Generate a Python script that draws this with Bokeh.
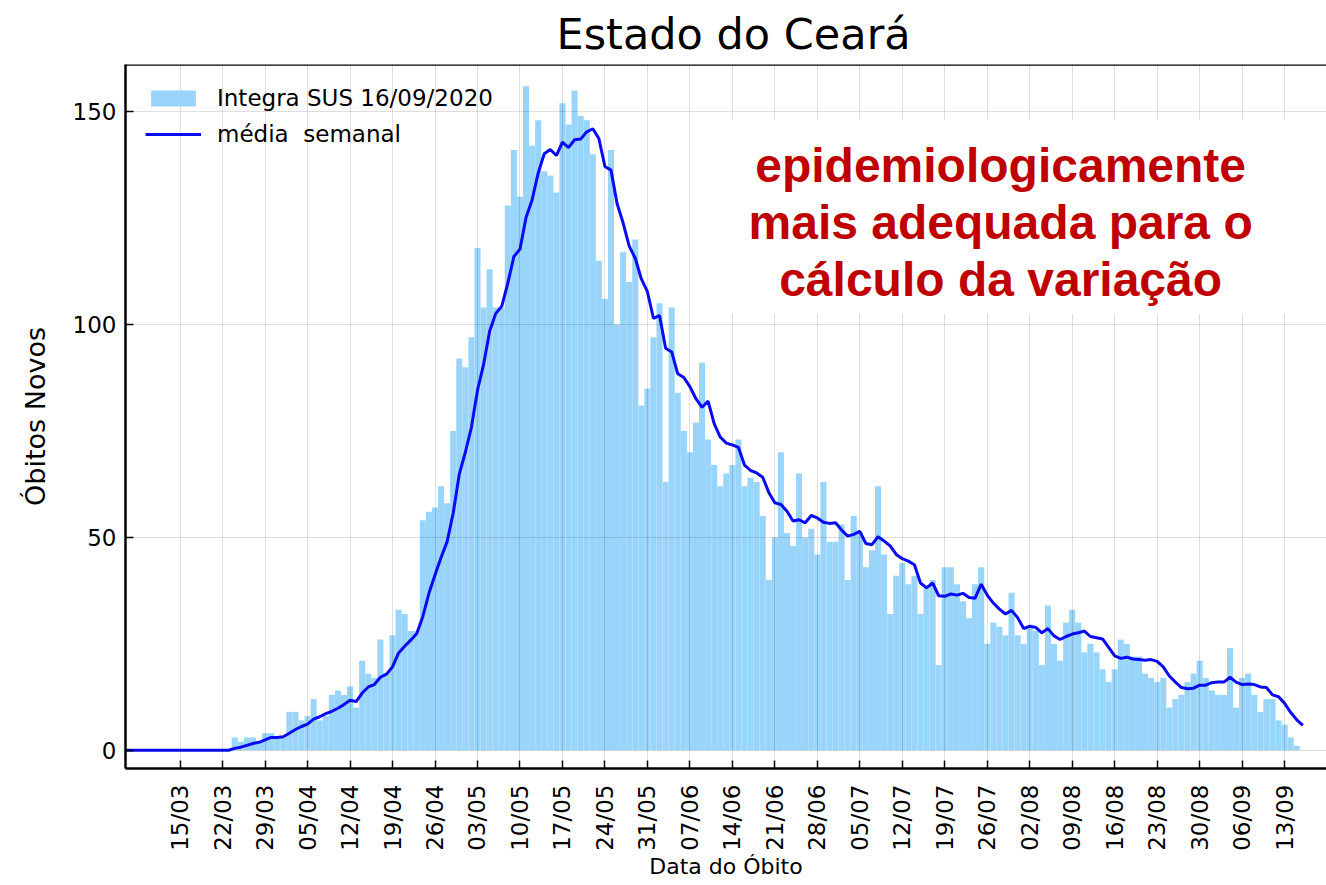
import math
import pandas as pd
from bokeh.plotting import figure
from bokeh.models import (Range1d, FixedTicker, DatetimeTickFormatter, BoxAnnotation,
                          Label, Span, Legend, LegendItem, ColumnDataSource)
from bokeh.embed import file_html
from bokeh.resources import INLINE

# ---------------- data ----------------
title_text = "Estado do Ceará"
first_date = "2020-03-06"
bar_label = "Integra SUS 16/09/2020"
line_label = "média  semanal"
annotation_lines = ["epidemiologicamente", "mais adequada para o", "cálculo da variação"]

deaths = [
    0, 0, 0, 0, 0, 0, 0, 0, 0, 0, 0, 0, 0, 0, 0, 0, 0, 0,
    3, 2, 3, 3, 2, 4, 4, 3, 3, 9,
    9, 7, 8, 12, 7, 8, 13, 14, 13, 15,
    10, 21, 18, 17, 26, 18, 27, 33, 32, 28,
    28, 54, 56, 57, 62, 58, 75, 92, 90, 97,
    118, 104, 113, 104, 104, 128, 141, 130, 156, 142,
    148, 136, 135, 131, 152, 147, 155, 149, 148, 140,
    115, 106, 141, 100, 117, 110, 120, 81, 85, 97,
    105, 63, 104, 84, 75, 70, 77, 91, 73, 67,
    62, 65, 67, 73, 62, 64, 63, 55, 40, 50,
    70, 51, 48, 65, 50, 52, 46, 63, 49, 49,
    53, 40, 55, 51, 43, 47, 62, 46, 32, 41,
    44, 39, 41, 32, 38, 40, 20, 43, 43, 39,
    35, 31, 39, 43, 25, 30, 29, 27, 37, 27,
    25, 29, 28, 20, 34, 25, 21, 30, 33, 30,
    23, 25, 23, 19, 16, 19, 26, 25, 22, 22,
    18, 17, 16, 17, 10, 12, 13, 16, 18, 21,
    17, 14, 13, 13, 24, 10, 17, 18, 13, 9,
    12, 12, 7, 6, 3, 1, 0,
]

tick_labels = ["15/03", "22/03", "29/03", "05/04", "12/04", "19/04", "26/04",
               "03/05", "10/05", "17/05", "24/05", "31/05", "07/06", "14/06",
               "21/06", "28/06", "05/07", "12/07", "19/07", "26/07", "02/08",
               "09/08", "16/08", "23/08", "30/08", "06/09", "13/09"]
y_ticks = [0, 50, 100, 150]

# ---------------- derived ----------------
dates = pd.date_range(first_date, periods=len(deaths), freq="D")
weekly_mean = pd.Series(deaths).rolling(7, min_periods=1).mean()
source = ColumnDataSource(dict(date=dates, deaths=deaths, mean=weekly_mean))

EPOCH = pd.Timestamp("1970-01-01")
DAY = 86400000.0
def ms(ts):
    return (pd.Timestamp(ts) - EPOCH) / pd.Timedelta(milliseconds=1)

ref0 = ms("2020-03-15")
def day(d):
    return ref0 + d * DAY

tick_ms = [ms(pd.to_datetime(t + "/2020", format="%d/%m/%Y")) for t in tick_labels]

FONT = "DejaVu Sans"
W, H = 1326, 884

p = figure(width=W, height=H, x_axis_type="datetime",
           output_backend="svg", toolbar_location=None,
           x_range=Range1d(day(-9.0), day(188.9)),
           y_range=Range1d(-4.3, 161.1),
           min_border_left=125, min_border_top=62, min_border_bottom=H - 768,
           min_border_right=0)

p.background_fill_color = "white"
p.border_fill_color = "white"
p.outline_line_color = None

bars = p.vbar(x="date", top="deaths", bottom=0, width=DAY, source=source,
              fill_color="#99d5fa", line_color=None)
line = p.line(x="date", y="mean", source=source, line_color="#0a0af5", line_width=3)

# title
p.title.text = title_text
p.title.align = "left"
p.title.offset = 431
p.title.text_font = FONT
p.title.text_font_size = "43px"
p.title.text_font_style = "normal"
p.title.text_color = "black"
p.title.standoff = 12

# axes
xa = p.xaxis[0]
xa.ticker = FixedTicker(ticks=tick_ms)
xa.formatter = DatetimeTickFormatter(days="%d/%m", months="%d/%m", years="%d/%m",
                                     hours="%d/%m", minutes="%d/%m", seconds="%d/%m",
                                     milliseconds="%d/%m", microseconds="%d/%m")
xa.major_label_orientation = math.pi / 2
xa.major_label_text_font = FONT
xa.major_label_text_font_size = "23px"
xa.major_label_text_color = "black"
xa.major_label_standoff = 16
xa.axis_label = "Data do Óbito"
xa.axis_label_text_font = FONT
xa.axis_label_text_font_size = "22px"
xa.axis_label_text_font_style = "normal"
xa.axis_label_text_color = "black"
xa.axis_label_standoff = 0
xa.axis_line_color = "black"
xa.axis_line_width = 2.5
xa.major_tick_in = 8
xa.major_tick_out = 0
xa.major_tick_line_width = 1.5
xa.major_tick_line_color = "black"
xa.minor_tick_line_color = None

ya = p.yaxis[0]
ya.ticker = FixedTicker(ticks=y_ticks)
ya.major_label_text_font = FONT
ya.major_label_text_font_size = "23px"
ya.major_label_text_color = "black"
ya.major_label_standoff = 9
ya.axis_label = "Óbitos Novos"
ya.axis_label_text_font = FONT
ya.axis_label_text_font_size = "27px"
ya.axis_label_text_font_style = "normal"
ya.axis_label_text_color = "black"
ya.axis_label_standoff = 19
ya.axis_line_color = "black"
ya.axis_line_width = 2.5
ya.major_tick_in = 8
ya.major_tick_out = 0
ya.major_tick_line_width = 1.5
ya.major_tick_line_color = "black"
ya.minor_tick_line_color = None

# grid on top of bars
for g in (p.xgrid[0], p.ygrid[0]):
    g.grid_line_color = "black"
    g.grid_line_alpha = 0.13
    g.grid_line_width = 1
    g.level = "guide"

# top frame line
p.add_layout(Span(location=161.1, dimension="width", line_color="black", line_width=2.5))

# legend
legend = Legend(items=[LegendItem(label=bar_label, renderers=[bars]),
                       LegendItem(label=line_label, renderers=[line])],
                location="top_left")
legend.border_line_color = None
legend.background_fill_alpha = 0
legend.label_text_font = FONT
legend.label_text_font_size = "23px"
legend.label_text_color = "black"
legend.glyph_width = 56
legend.glyph_height = 20
legend.label_height = 27
legend.spacing = 9
legend.padding = 10
legend.margin = 20
legend.label_standoff = 16
p.add_layout(legend)

# annotation (white box with red bold text)
p.add_layout(BoxAnnotation(left=day(90.4), right=day(183.3), bottom=102.5, top=148.2,
                           fill_color="white", fill_alpha=1.0, line_color=None))
for txt, base in zip(annotation_lines, [137.3, 124.0, 110.7]):
    p.add_layout(Label(x=day(135.2), y=base, text=txt, text_align="center",
                       text_baseline="alphabetic", text_font="Liberation Sans",
                       text_font_style="bold", text_font_size="48px",
                       text_color="#c00000"))

open("out.html", "w").write(file_html(p, INLINE))
